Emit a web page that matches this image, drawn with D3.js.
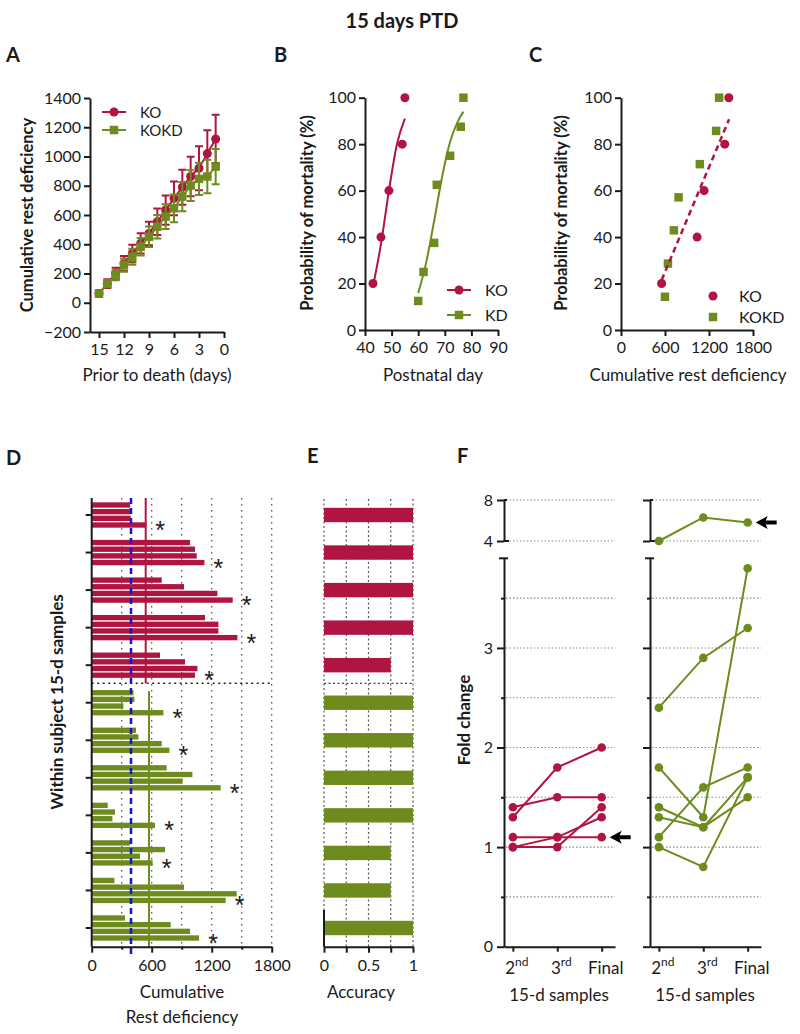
<!DOCTYPE html>
<html>
<head>
  <meta charset='utf-8'>
  <style>
    body { margin: 0; background: #fff; }
    svg { font-family: Lato, "Open Sans", sans-serif; }
  </style>
  <script src="https://cdn.jsdelivr.net/npm/d3@7"></script>
</head>
<body>
<script>
  const red = "#B01441", green = "#6E8B1E", ink = "#1a1a1a";
  const FONT = "Lato, 'Open Sans', sans-serif";
  const fmt = d3.format("d");

  // A: cumulative rest deficiency, days prior to death (15 -> 1)
  const daysA = [15, 14, 13, 12, 11, 10, 9, 8, 7, 6, 5, 4, 3, 2, 1];
  const koCumA = [63, 131, 200, 269, 337, 406, 474, 554, 634, 714, 790, 863, 920, 1020, 1120];
  const koErrA = [20, 30, 40, 50, 60, 70, 80, 90, 100, 115, 120, 135, 150, 160, 165];
  const kokdCumA = [63, 131, 189, 257, 314, 383, 451, 520, 589, 646, 726, 801, 847, 863, 931];
  const kokdErrA = [15, 25, 35, 45, 55, 60, 70, 80, 85, 95, 100, 105, 110, 115, 120];

  // B: mortality vs postnatal day
  const koAgeB = [43, 46, 49, 54, 55];
  const koMortB = [20, 40, 60, 80, 100];
  const kdAgeB = [60, 62, 66, 67, 72, 76, 77];
  const kdMortB = [12.5, 25, 37.5, 62.5, 75, 87.5, 100];
  const koFitAgeB = [43, 46, 49, 52, 55];
  const koFitB = [18.7, 37, 60, 80, 91];
  const kdFitAgeB = [60, 63, 66, 69, 72, 75, 77];
  const kdFitB = [15.9, 29, 47, 66, 81, 90, 94];

  // C: mortality vs cumulative rest deficiency
  const koCumC = [554, 1038, 1133, 1415, 1470];
  const koMortC = [20, 40, 60, 80, 100];
  const kokdCumC = [599, 640, 721, 785, 1075, 1297, 1338];
  const kokdMortC = [14.3, 28.6, 42.9, 57.1, 71.4, 85.7, 100];
  const fitCumC = [554, 1474];
  const fitMortC = [21.5, 90.7];

  // D: within-subject 15-d samples (5 KO, 7 KOKD subjects, 4 samples each)
  const dSubjects = ["KO", "KO", "KO", "KO", "KO", "KOKD", "KOKD", "KOKD", "KOKD", "KOKD", "KOKD", "KOKD"];
  const dSamples = [
    [385, 385, 390, 545],
    [983, 1033, 1050, 1127],
    [700, 923, 1257, 1410],
    [1133, 1267, 1267, 1457],
    [683, 933, 1057, 1033],
    [417, 427, 317, 717],
    [443, 467, 700, 777],
    [750, 1007, 910, 1290],
    [160, 233, 207, 633],
    [383, 733, 483, 610],
    [227, 923, 1450, 1340],
    [333, 790, 983, 1073]
  ];
  const dThreshold = 393;
  const dKoLine = 540, dKokdLine = 573;
  const dTicks = [0, 600, 1200, 1800];

  // E: accuracy
  const accuracy = [1, 1, 1, 1, 0.75, 1, 1, 1, 1, 0.75, 0.75, 1];

  // F: fold change per subject
  const fSamples = ["2nd", "3rd", "Final"];
  const koFold = [[1.3, 1.8, 2.0], [1.4, 1.5, 1.5], [1.1, 1.1, 1.1], [1.0, 1.1, 1.3], [1.0, 1.0, 1.4]];
  const kokdFold = [[4.0, 6.3, 5.8], [2.4, 2.9, 3.2], [1.8, 1.3, 3.8], [1.1, 1.6, 1.8], [1.4, 1.2, 1.7], [1.3, 1.2, 1.5], [1.0, 0.8, 1.7]];

  const svg = d3.select("body").append("svg")
    .attr("width", 800).attr("height", 1034)
    .attr("viewBox", [0, 0, 800, 1034]);

  function styleAxis(g, size = 16) {
    g.attr("font-family", FONT);
    g.selectAll("path.domain, line").attr("stroke", ink).attr("stroke-width", 2);
    g.selectAll("text").attr("font-size", size).attr("fill", ink);
  }
  function text(x, y, str, opts = {}) {
    const t = svg.append("text").attr("x", x).attr("y", y).text(str)
      .attr("font-size", opts.size || 17).attr("fill", ink)
      .attr("font-weight", opts.weight || "normal")
      .attr("text-anchor", opts.anchor || "middle");
    if (opts.family) t.attr("font-family", opts.family);
    if (opts.rotate) t.attr("transform", `rotate(-90,${x},${y})`);
    return t;
  }

  // title and panel letters
  text(402, 28, "15 days PTD", { size: 20, weight: "bold" });
  [["A", 6, 62], ["B", 274, 62], ["C", 529, 62], ["D", 6, 465], ["E", 307, 463], ["F", 457, 463]]
    .forEach(([l, x, y]) => text(x, y, l, { size: 20, weight: "bold", anchor: "start" }));

  // ---------- Panel A ----------
  const xA = d3.scaleLinear().domain([16.08, 0]).range([90, 224]);
  const yA = d3.scaleLinear().domain([-200, 1400]).range([332, 98]);
  svg.append("g").attr("transform", "translate(0,332)")
    .call(d3.axisBottom(xA).tickValues([15, 12, 9, 6, 3, 0]).tickFormat(fmt).tickSize(6).tickSizeOuter(0).tickPadding(6))
    .call(styleAxis);
  svg.append("g").attr("transform", "translate(90,0)")
    .call(d3.axisLeft(yA).tickValues(d3.range(-200, 1401, 200)).tickFormat(fmt).tickSize(6).tickSizeOuter(0))
    .call(styleAxis);
  text(157, 381, "Prior to death (days)");
  text(33, 215, "Cumulative rest deficiency", { weight: "bold", size: 16.5, rotate: true });

  function seriesA(mean, err, color, shape) {
    const g = svg.append("g");
    const pts = daysA.map((d, i) => ({ d, m: mean[i], e: err[i] }));
    g.selectAll(".eb").data(pts).join("path")
      .attr("d", p => `M${xA(p.d)},${yA(p.m - p.e)}V${yA(p.m + p.e)}M${xA(p.d) - 4},${yA(p.m + p.e)}h8M${xA(p.d) - 4},${yA(p.m - p.e)}h8`)
      .attr("stroke", color).attr("stroke-width", 2).attr("fill", "none");
    g.append("path").datum(pts)
      .attr("d", d3.line().x(p => xA(p.d)).y(p => yA(p.m)))
      .attr("stroke", color).attr("stroke-width", 2).attr("fill", "none");
    g.selectAll(".mk").data(pts).join("path")
      .attr("transform", p => `translate(${xA(p.d)},${yA(p.m)})`)
      .attr("d", d3.symbol(shape, shape === d3.symbolSquare ? 72 : 64))
      .attr("fill", color);
  }
  seriesA(koCumA, koErrA, red, d3.symbolCircle);
  seriesA(kokdCumA, kokdErrA, green, d3.symbolSquare);

  function legendItem(x, y, color, shape, label, withLine, size) {
    if (withLine) svg.append("line").attr("x1", x - 12).attr("x2", x + 12).attr("y1", y).attr("y2", y)
      .attr("stroke", color).attr("stroke-width", 2);
    svg.append("path").attr("transform", `translate(${x},${y})`)
      .attr("d", d3.symbol(shape, shape === d3.symbolSquare ? 72 : 64)).attr("fill", color);
    text(x + 26, y + 5.5, label, { anchor: "start", size: size || 16 });
  }
  legendItem(114, 112, red, d3.symbolCircle, "KO", true, 15);
  legendItem(114, 130, green, d3.symbolSquare, "KOKD", true, 15);

  // ---------- Panel B ----------
  const xB = d3.scaleLinear().domain([40, 90]).range([365, 498]);
  const yB = d3.scaleLinear().domain([0, 100]).range([330, 97.7]);
  svg.append("g").attr("transform", "translate(0,330)")
    .call(d3.axisBottom(xB).tickValues(d3.range(40, 91, 10)).tickFormat(fmt).tickSize(6).tickSizeOuter(0).tickPadding(6))
    .call(styleAxis);
  svg.append("g").attr("transform", "translate(365,0)")
    .call(d3.axisLeft(yB).tickValues(d3.range(0, 101, 20)).tickFormat(fmt).tickSize(6).tickSizeOuter(0))
    .call(styleAxis);
  text(433, 381, "Postnatal day");
  text(313, 213, "Probability of mortality (%)", { weight: "bold", size: 16.5, rotate: true });

  const fitLineB = d3.line().curve(d3.curveMonotoneX).x(d => xB(d[0])).y(d => yB(d[1]));
  svg.append("path").datum(d3.zip(koFitAgeB, koFitB)).attr("d", fitLineB)
    .attr("stroke", red).attr("stroke-width", 2).attr("fill", "none");
  svg.append("path").datum(d3.zip(kdFitAgeB, kdFitB)).attr("d", fitLineB)
    .attr("stroke", green).attr("stroke-width", 2).attr("fill", "none");
  svg.append("g").selectAll("path").data(d3.zip(koAgeB, koMortB)).join("path")
    .attr("transform", d => `translate(${xB(d[0])},${yB(d[1])})`)
    .attr("d", d3.symbol(d3.symbolCircle, 64)).attr("fill", red);
  svg.append("g").selectAll("path").data(d3.zip(kdAgeB, kdMortB)).join("path")
    .attr("transform", d => `translate(${xB(d[0])},${yB(d[1])})`)
    .attr("d", d3.symbol(d3.symbolSquare, 72)).attr("fill", green);
  legendItem(459, 290, red, d3.symbolCircle, "KO", true);
  legendItem(459, 315, green, d3.symbolSquare, "KD", true);

  // ---------- Panel C ----------
  const xC = d3.scaleLinear().domain([0, 1800]).range([621, 753]);
  const yC = d3.scaleLinear().domain([0, 100]).range([330, 97.7]);
  svg.append("g").attr("transform", "translate(0,330)")
    .call(d3.axisBottom(xC).tickValues([0, 600, 1200, 1800]).tickFormat(fmt).tickSize(6).tickSizeOuter(0).tickPadding(6))
    .call(styleAxis);
  svg.append("g").attr("transform", "translate(621,0)")
    .call(d3.axisLeft(yC).tickValues(d3.range(0, 101, 20)).tickFormat(fmt).tickSize(6).tickSizeOuter(0))
    .call(styleAxis);
  text(688, 381, "Cumulative rest deficiency");
  text(567, 213, "Probability of mortality (%)", { weight: "bold", size: 16.5, rotate: true });

  svg.append("g").selectAll("path").data(d3.zip(kokdCumC, kokdMortC)).join("path")
    .attr("transform", d => `translate(${xC(d[0])},${yC(d[1])})`)
    .attr("d", d3.symbol(d3.symbolSquare, 72)).attr("fill", green);
  svg.append("g").selectAll("path").data(d3.zip(koCumC, koMortC)).join("path")
    .attr("transform", d => `translate(${xC(d[0])},${yC(d[1])})`)
    .attr("d", d3.symbol(d3.symbolCircle, 64)).attr("fill", red);
  svg.append("path").datum(d3.zip(fitCumC, fitMortC))
    .attr("d", d3.line().x(d => xC(d[0])).y(d => yC(d[1])))
    .attr("stroke", red).attr("stroke-width", 2.5).attr("stroke-dasharray", "6,4").attr("fill", "none");
  legendItem(713, 296, red, d3.symbolCircle, "KO", false);
  legendItem(713, 317, green, d3.symbolSquare, "KOKD", false);

  // ---------- Panel D ----------
  const xD = d3.scaleLinear().domain([0, 1800]).range([91.7, 271.7]);
  const yGroup = d3.scalePoint().domain(d3.range(12)).range([515, 928]);
  const ySub = d3.scaleBand().domain([0, 1, 2, 3]).range([-12.67, 12.67]).paddingInner(0.2);
  const topD = 498, botD = 946.7, splitY = 683.3;
  const colorOf = s => s === "KO" ? red : green;

  svg.append("g").selectAll("line").data([300, 600, 900, 1200, 1500, 1800]).join("line")
    .attr("x1", d => xD(d)).attr("x2", d => xD(d)).attr("y1", topD).attr("y2", botD)
    .attr("stroke", "#555").attr("stroke-width", 1.3).attr("stroke-dasharray", "1.5,4.5");

  const gD = svg.append("g");
  dSamples.forEach((vals, gi) => {
    gD.selectAll(null).data(vals).join("rect")
      .attr("x", xD(0)).attr("y", (v, i) => yGroup(gi) + ySub(i))
      .attr("width", v => xD(v) - xD(0)).attr("height", ySub.bandwidth())
      .attr("fill", colorOf(dSubjects[gi]));
    const last = vals[3];
    text(xD(last) + 14, yGroup(gi) + ySub(3) + ySub.bandwidth() / 2 + 14, "*",
      { size: 25, family: "'Liberation Sans', Arial, sans-serif" });
  });

  svg.append("line").attr("x1", xD(0)).attr("x2", xD(1800)).attr("y1", splitY).attr("y2", splitY)
    .attr("stroke", "#222").attr("stroke-width", 1.6).attr("stroke-dasharray", "2,3.5");
  svg.append("line").attr("x1", xD(dKoLine)).attr("x2", xD(dKoLine)).attr("y1", topD).attr("y2", splitY)
    .attr("stroke", red).attr("stroke-width", 2);
  svg.append("line").attr("x1", xD(dKokdLine)).attr("x2", xD(dKokdLine)).attr("y1", splitY + 8).attr("y2", botD)
    .attr("stroke", green).attr("stroke-width", 2);
  svg.append("line").attr("x1", xD(dThreshold)).attr("x2", xD(dThreshold)).attr("y1", topD).attr("y2", botD + 10)
    .attr("stroke", "#1414CC").attr("stroke-width", 2.5).attr("stroke-dasharray", "6,4");

  svg.append("g").attr("transform", `translate(0,${botD})`)
    .call(d3.axisBottom(xD).tickValues(dTicks).tickFormat(fmt).tickSize(6).tickSizeOuter(0).tickPadding(7))
    .call(styleAxis);
  svg.append("g").attr("transform", `translate(0,${botD})`)
    .call(d3.axisBottom(xD).tickValues([300, 900, 1500]).tickSize(3).tickFormat(""))
    .call(g => g.select(".domain").remove()).call(styleAxis);
  svg.append("line").attr("x1", xD(0)).attr("x2", xD(0)).attr("y1", topD).attr("y2", botD)
    .attr("stroke", ink).attr("stroke-width", 2);
  svg.append("g").selectAll("line").data(d3.range(12)).join("line")
    .attr("x1", xD(0) - 6).attr("x2", xD(0)).attr("y1", d => yGroup(d)).attr("y2", d => yGroup(d))
    .attr("stroke", ink).attr("stroke-width", 2);
  text(182, 998, "Cumulative");
  text(182, 1023, "Rest deficiency");
  text(63, 702, "Within subject 15-d samples", { weight: "bold", size: 17, rotate: true });

  // ---------- Panel E ----------
  const xE = d3.scaleLinear().domain([0, 1]).range([324, 413]);
  svg.append("g").selectAll("line").data([0, 0.25, 0.5, 0.75, 1]).join("line")
    .attr("x1", d => xE(d)).attr("x2", d => xE(d)).attr("y1", 499).attr("y2", botD)
    .attr("stroke", "#555").attr("stroke-width", 1.2).attr("stroke-dasharray", "2,2.5");
  svg.append("line").attr("x1", xE(0)).attr("x2", xE(1)).attr("y1", splitY).attr("y2", splitY)
    .attr("stroke", "#444").attr("stroke-width", 1.2).attr("stroke-dasharray", "2,2.5");
  svg.append("g").selectAll("rect").data(accuracy).join("rect")
    .attr("x", xE(0)).attr("y", (d, i) => yGroup(i) - 7.2)
    .attr("width", d => xE(d) - xE(0)).attr("height", 14.4)
    .attr("fill", (d, i) => colorOf(dSubjects[i]));
  svg.append("g").attr("transform", `translate(0,${botD})`)
    .call(d3.axisBottom(xE).tickValues([0, 0.25, 0.5, 0.75, 1]).tickSize(6).tickSizeOuter(0).tickPadding(7)
      .tickFormat(d => (d === 0.25 || d === 0.75) ? "" : d3.format("")(d)))
    .call(styleAxis);
  svg.append("line").attr("x1", xE(0)).attr("x2", xE(0)).attr("y1", 910).attr("y2", botD)
    .attr("stroke", ink).attr("stroke-width", 2);
  text(361, 998, "Accuracy");

  // ---------- Panel F ----------
  const yLow = d3.scaleLinear().domain([0, 3.9]).range([946.7, 558.3]);
  const yUp = d3.scaleLinear().domain([4, 8]).range([541, 500]);
  const yF = v => v >= 4 ? yUp(v) : yLow(v);
  const panelsF = [
    { x0: 504, data: koFold, color: red, labels: true, arrow: 2 },
    { x0: 650, data: kokdFold, color: green, labels: false, arrow: 0 }
  ];
  panelsF.forEach(p => {
    const x = d3.scaleLinear().domain([-0.2, 2.3]).range([p.x0, p.x0 + 111]);
    const g = svg.append("g");
    // grid
    g.selectAll(".grid").data([0.5, 1, 1.5, 2, 2.5, 3, 3.5]).join("line")
      .attr("x1", p.x0 + 2).attr("x2", p.x0 + 111).attr("y1", d => yLow(d)).attr("y2", d => yLow(d))
      .attr("stroke", "#888").attr("stroke-width", 1.1).attr("stroke-dasharray", "1.5,2");
    g.selectAll(".gridU").data([4, 8]).join("line")
      .attr("x1", p.x0 + 2).attr("x2", p.x0 + 111).attr("y1", d => yUp(d)).attr("y2", d => yUp(d))
      .attr("stroke", "#888").attr("stroke-width", 1.1).attr("stroke-dasharray", "1.5,2");
    // axes
    g.append("g").attr("transform", `translate(${p.x0},0)`)
      .call(d3.axisLeft(yLow).tickValues([0, 1, 2, 3]).tickSize(7).tickSizeOuter(0).tickPadding(4)
        .tickFormat(p.labels ? fmt : ""))
      .call(styleAxis);
    g.append("g").attr("transform", `translate(${p.x0},0)`)
      .call(d3.axisLeft(yLow).tickValues([0.5, 1.5, 2.5, 3.5]).tickSize(3).tickFormat(""))
      .call(a => a.select(".domain").remove()).call(styleAxis);
    g.append("g").attr("transform", `translate(${p.x0},0)`)
      .call(d3.axisLeft(yUp).tickValues([4, 8]).tickSize(7).tickSizeOuter(0).tickPadding(4)
        .tickFormat(p.labels ? fmt : ""))
      .call(styleAxis);
    g.append("line").attr("x1", p.x0 - 5).attr("x2", p.x0 + 4).attr("y1", yLow(3.9)).attr("y2", yLow(3.9))
      .attr("stroke", ink).attr("stroke-width", 2);
    g.append("line").attr("x1", p.x0).attr("x2", p.x0 + 5).attr("y1", yUp(4)).attr("y2", yUp(4))
      .attr("stroke", ink).attr("stroke-width", 2);
    g.append("line").attr("x1", p.x0).attr("x2", p.x0 + 3).attr("y1", yUp(8)).attr("y2", yUp(8))
      .attr("stroke", ink).attr("stroke-width", 2);
    g.append("g").attr("transform", `translate(0,${yLow(0)})`)
      .call(d3.axisBottom(x).tickValues([0, 1, 2]).tickSize(5).tickSizeOuter(0).tickFormat(""))
      .call(styleAxis);
    // tick labels with superscripts
    fSamples.forEach((s, i) => {
      const t = g.append("text").attr("x", x(i) + 4).attr("y", 974).attr("text-anchor", "middle")
        .attr("font-size", 17).attr("fill", ink);
      if (s === "Final") t.text(s);
      else {
        t.append("tspan").text(s[0]);
        t.append("tspan").text(s.slice(1)).attr("font-size", 12).attr("dy", -8);
      }
    });
    text(p.x0 + 55, 1001, "15-d samples");
    // subjects
    const line = d3.line().x((v, i) => x(i)).y(v => yF(v));
    g.selectAll(".subj").data(p.data).join("path")
      .attr("d", line).attr("stroke", p.color).attr("stroke-width", 2).attr("fill", "none");
    p.data.forEach(s => {
      g.selectAll(null).data(s).join("circle")
        .attr("cx", (v, i) => x(i)).attr("cy", v => yF(v)).attr("r", 4.3).attr("fill", p.color);
    });
    // arrow toward the final sample of the marked subject
    const v = p.data[p.arrow][2];
    const tx = x(2) + 8, ty = yF(v);
    g.append("path")
      .attr("d", `M${tx},${ty}l12,-6.5l-2,4.5h11v4h-11l2,4.5z`)
      .attr("fill", "#000");
  });
  text(470, 720, "Fold change", { weight: "bold", size: 17, rotate: true });
</script>
</body>
</html>
